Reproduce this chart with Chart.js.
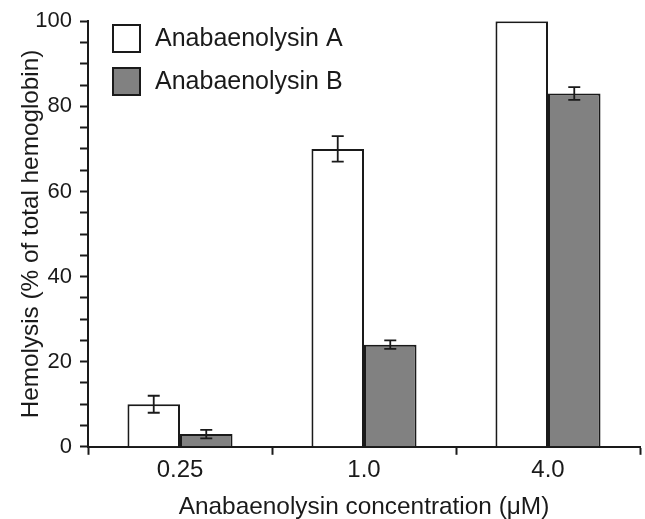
<!DOCTYPE html>
<html>
<head>
<meta charset="utf-8">
<script src="https://cdn.jsdelivr.net/npm/chart.js@4"></script>
<style>
    body { margin: 0; background: #fff; }
    #wrap { width: 645px; height: 519px; }
</style>
</head>
<body>
<div id="wrap"><canvas id="hemoChart" width="645" height="519"></canvas></div>
<script>
const concentrations = ["0.25", "1.0", "4.0"];
const anaA = [10, 70, 100];
const anaAErr = [2, 3, 0];
const anaB = [3, 24, 83];
const anaBErr = [1, 1, 1.5];
const seriesNames = ["Anabaenolysin A", "Anabaenolysin B"];

const ink = "#1a1a1a";
const font = "'Liberation Sans', Arial, sans-serif";

// error bars drawn from the value scale
const errorBars = {
    id: "errorBars",
    afterDatasetsDraw(chart) {
        const ctx = chart.ctx;
        const yScale = chart.scales.y;
        chart.data.datasets.forEach((ds, di) => {
            const meta = chart.getDatasetMeta(di);
            meta.data.forEach((bar, i) => {
                const err = ds.errors[i];
                if (!err) return;
                const top = yScale.getPixelForValue(ds.data[i] + err);
                const bottom = yScale.getPixelForValue(ds.data[i] - err);
                ctx.save();
                ctx.strokeStyle = ink;
                ctx.lineWidth = 1.8;
                ctx.beginPath();
                ctx.moveTo(bar.x, top);
                ctx.lineTo(bar.x, bottom);
                ctx.moveTo(bar.x - 6, top);
                ctx.lineTo(bar.x + 6, top);
                ctx.moveTo(bar.x - 6, bottom);
                ctx.lineTo(bar.x + 6, bottom);
                ctx.stroke();
                ctx.restore();
            });
        });
    }
};

// legend inside the plot, top left
const boxLegend = {
    id: "boxLegend",
    afterDraw(chart) {
        const ctx = chart.ctx;
        const left = chart.chartArea.left + 25;
        ctx.save();
        ctx.font = "25px " + font;
        ctx.textBaseline = "middle";
        chart.data.datasets.forEach((ds, i) => {
            const y = 25 + i * 43;
            ctx.fillStyle = ds.backgroundColor;
            ctx.fillRect(left, y, 27, 27);
            ctx.strokeStyle = ink;
            ctx.lineWidth = 2;
            ctx.strokeRect(left, y, 27, 27);
            ctx.fillStyle = ink;
            ctx.fillText(ds.label, left + 42, y + 14);
        });
        ctx.restore();
    }
};

new Chart(document.getElementById("hemoChart"), {
    type: "bar",
    data: {
        labels: concentrations,
        datasets: [
            {
                label: seriesNames[0],
                data: anaA,
                errors: anaAErr,
                backgroundColor: "#ffffff",
                borderColor: ink,
                borderWidth: 2
            },
            {
                label: seriesNames[1],
                data: anaB,
                errors: anaBErr,
                backgroundColor: "#818181",
                borderColor: ink,
                borderWidth: 2
            }
        ]
    },
    options: {
        responsive: false,
        animation: false,
        devicePixelRatio: 1,
        layout: {
            padding: { top: 17, right: 5, left: 0, bottom: 0 }
        },
        datasets: {
            bar: {
                categoryPercentage: 0.571,
                barPercentage: 1
            }
        },
        scales: {
            x: {
                offset: true,
                grid: {
                    offset: true,
                    drawOnChartArea: false,
                    drawTicks: true,
                    tickLength: 8,
                    tickWidth: 2,
                    color: ink
                },
                border: { display: true, color: ink, width: 2 },
                ticks: {
                    color: ink,
                    padding: 1,
                    font: { family: font, size: 24 }
                },
                title: {
                    display: true,
                    text: "Anabaenolysin concentration (μM)",
                    color: ink,
                    padding: { top: 9, bottom: 0 },
                    font: { family: font, size: 24.4, lineHeight: 1 }
                }
            },
            y: {
                min: 0,
                max: 100,
                afterFit: (scale) => { scale.width = 88; },
                grid: {
                    drawOnChartArea: false,
                    drawTicks: true,
                    tickLength: 8,
                    tickWidth: 2,
                    color: ink
                },
                border: { display: true, color: ink, width: 2 },
                ticks: {
                    stepSize: 5,
                    autoSkip: false,
                    color: ink,
                    padding: 8,
                    font: { family: font, size: 22 },
                    callback: (v) => (v % 20 === 0 ? v : "")
                },
                title: {
                    display: true,
                    text: "Hemolysis (% of total hemoglobin)",
                    color: ink,
                    padding: { top: 17, bottom: 0 },
                    font: { family: font, size: 24.3 }
                }
            }
        },
        plugins: {
            legend: { display: false },
            tooltip: { enabled: false }
        }
    },
    plugins: [errorBars, boxLegend]
});
</script>
</body>
</html>
